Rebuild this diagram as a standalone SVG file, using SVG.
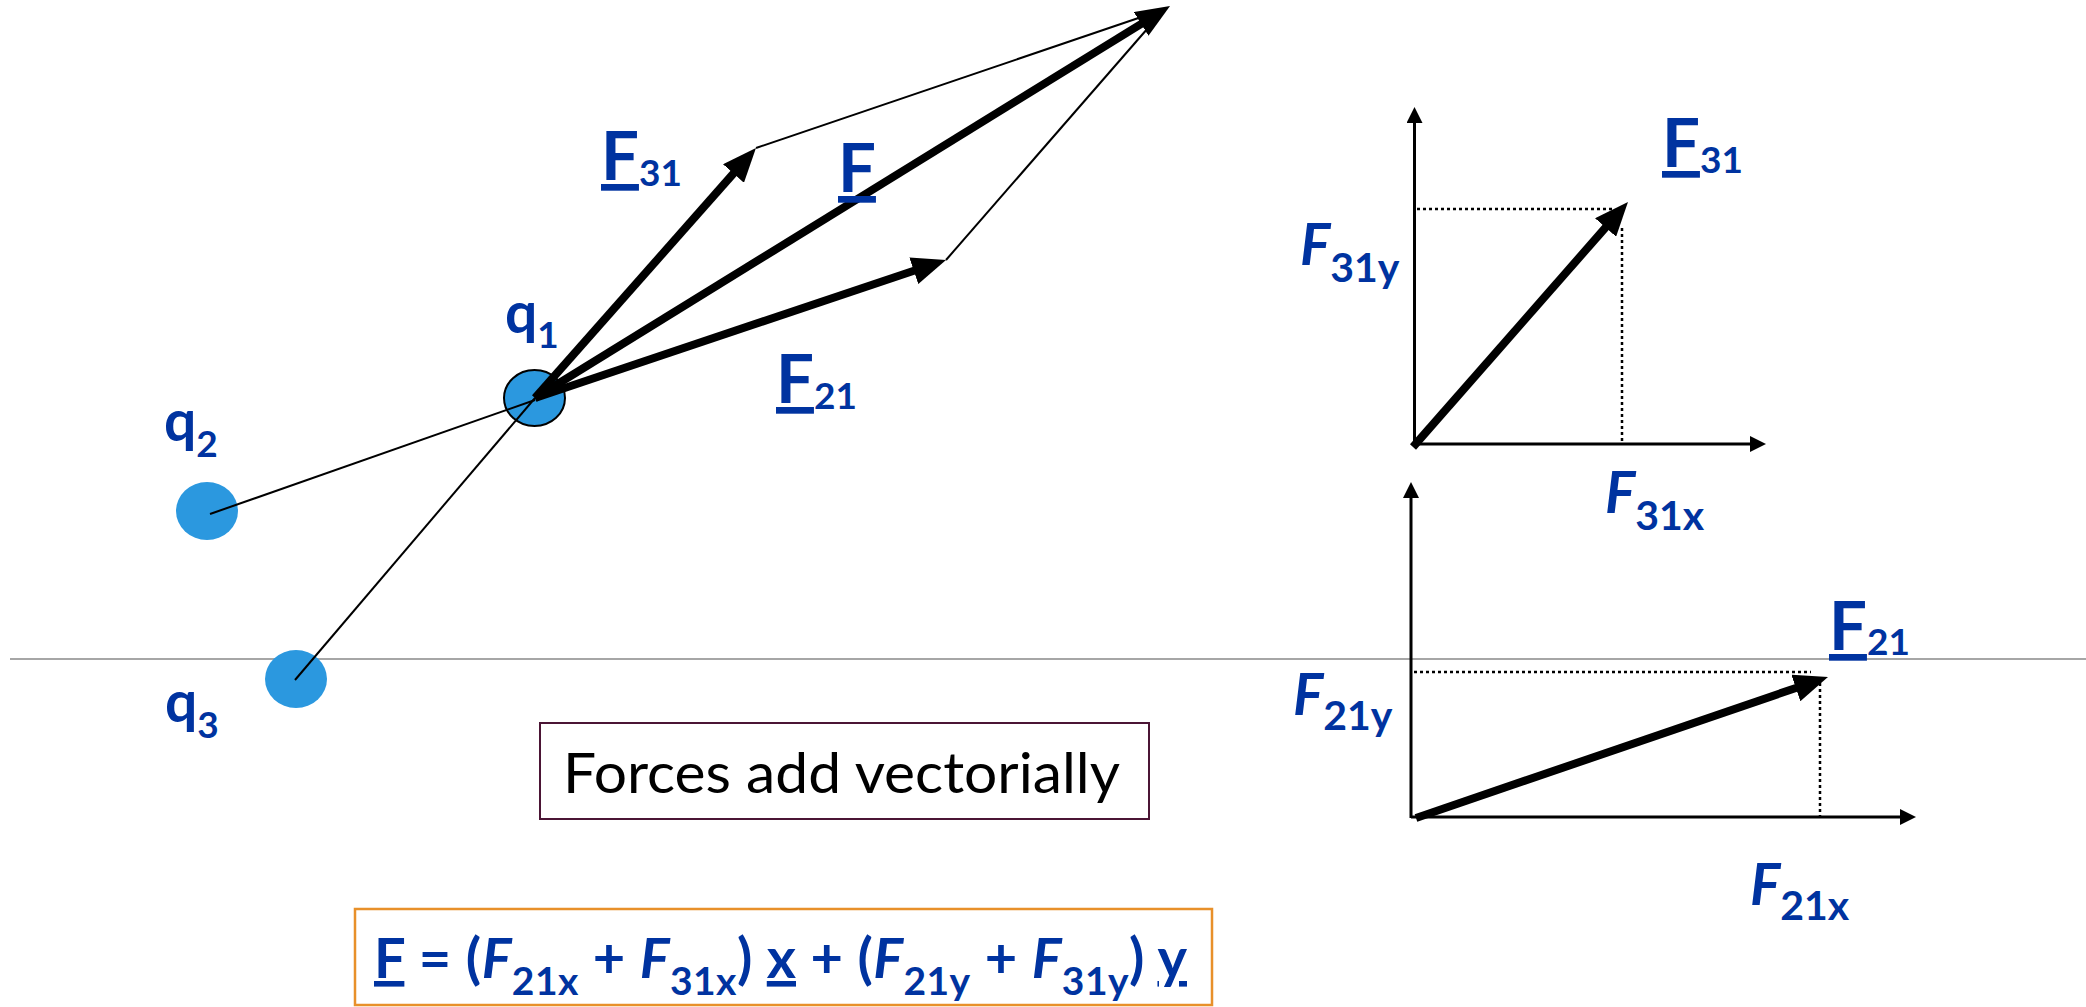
<svg xmlns="http://www.w3.org/2000/svg" width="2086" height="1007" viewBox="0 0 2086 1007">
<style>
.lbl{font-family:Lato,"Open Sans",sans-serif;font-weight:bold;fill:#0033a0}
.big{font-size:67px}
.sub{font-size:37px}
.it{font-style:italic;font-size:57px}
.isub{font-style:normal;font-size:41px}
.q{font-size:57px}
.qs{font-size:37px}
.eq{font-size:56px}
.eqs{font-size:39px}
.u{text-decoration:underline;text-decoration-skip-ink:none}
.thin{stroke:#000;stroke-width:2;fill:none}
.thick{stroke:#000;stroke-width:8;fill:none;marker-end:url(#head)}
.axis{stroke:#000;stroke-width:3;fill:none;marker-end:url(#ahead)}
.dot{stroke:#000;stroke-width:2.5;stroke-dasharray:3 3;fill:none}
.charge{fill:#2b98df}
</style>
<defs>
<marker id="head" markerUnits="userSpaceOnUse" viewBox="0 0 34 28" markerWidth="34" markerHeight="28" refX="4" refY="14" orient="auto">
<path d="M0,0 L34,14 L0,28 z" fill="#000"/>
</marker>
<marker id="ahead" markerUnits="userSpaceOnUse" viewBox="0 0 16 16" markerWidth="16" markerHeight="16" refX="2" refY="8" orient="auto">
<path d="M0,0 L16,8 L0,16 z" fill="#000"/>
</marker>
</defs>
<rect width="2086" height="1007" fill="#fff"/>
<line x1="10" y1="659" x2="2086" y2="659" stroke="#a6a6a6" stroke-width="2"/>
<g id="charge-q2"><ellipse class="charge" cx="207" cy="511" rx="31" ry="29"/></g>
<g id="charge-q3"><ellipse class="charge" cx="296" cy="679" rx="31" ry="29"/></g>
<g id="charge-q1"><ellipse class="charge" cx="534.5" cy="398" rx="30.5" ry="28" stroke="#000" stroke-width="2"/></g>
<g id="connectors">
<line class="thin" x1="210" y1="514" x2="535" y2="400"/>
<line class="thin" x1="295" y1="680" x2="535" y2="398"/>
<line class="thin" x1="756" y1="148" x2="1162" y2="10"/>
<line class="thin" x1="946" y1="260" x2="1148" y2="28"/>
<line class="thick" x1="535" y1="398" x2="1144.5" y2="21.8"/>
<line class="thick" x1="535" y1="398" x2="736.1" y2="170.5"/>
<line class="thick" x1="535" y1="398" x2="917.6" y2="269.5"/>
<line class="axis" x1="1414.5" y1="447" x2="1414.5" y2="121"/>
<line class="axis" x1="1413" y1="444" x2="1752" y2="444"/>
<line class="dot" x1="1417" y1="209" x2="1615" y2="209"/>
<line class="dot" x1="1622" y1="228" x2="1622" y2="444"/>
<line class="thick" x1="1413" y1="447" x2="1608.2" y2="224.5"/>
<line class="axis" x1="1411" y1="818" x2="1411" y2="496"/>
<line class="axis" x1="1411" y1="817" x2="1902" y2="817"/>
<line class="dot" x1="1414" y1="672" x2="1811" y2="672"/>
<line class="dot" x1="1820" y1="683" x2="1820" y2="817"/>
<line class="thick" x1="1416" y1="818" x2="1799.6" y2="686.7"/>
</g>
<g id="labels">
<text class="lbl q" x="505" y="333">q<tspan class="qs" dy="15">1</tspan></text>
<text class="lbl q" x="164" y="441">q<tspan class="qs" dy="16">2</tspan></text>
<text class="lbl q" x="165" y="722">q<tspan class="qs" dy="16">3</tspan></text>
<text class="lbl big" x="601" y="180"><tspan class="u">F</tspan><tspan class="sub" dy="6">31</tspan></text>
<text class="lbl big" x="838" y="192"><tspan class="u">F</tspan></text>
<text class="lbl big" x="776" y="403"><tspan class="u">F</tspan><tspan class="sub" dy="6">21</tspan></text>
<text class="lbl big" x="1662" y="167"><tspan class="u">F</tspan><tspan class="sub" dy="6">31</tspan></text>
<text class="lbl big" x="1829" y="650"><tspan class="u">F</tspan><tspan class="sub" dy="5">21</tspan></text>
<text class="lbl it" x="1300" y="265">F<tspan class="isub" dy="17">31y</tspan></text>
<text class="lbl it" x="1605" y="513">F<tspan class="isub" dy="17">31x</tspan></text>
<text class="lbl it" x="1293" y="715">F<tspan class="isub" dy="15">21y</tspan></text>
<text class="lbl it" x="1750" y="905">F<tspan class="isub" dy="15">21x</tspan></text>
</g>
<g id="note">
<rect x="540" y="723" width="609" height="96" fill="none" stroke="#4b1535" stroke-width="2"/>
<text x="563" y="793" font-family="Lato,'Open Sans',sans-serif" font-size="57" fill="#000" textLength="557" lengthAdjust="spacingAndGlyphs">Forces add vectorially</text>
</g>
<g id="equation">
<rect x="355" y="909" width="857" height="96" fill="none" stroke="#e8902a" stroke-width="2.5"/>
<text class="lbl eq" x="374" y="978" textLength="813" lengthAdjust="spacing"><tspan class="u">F</tspan> = (<tspan font-style="italic">F</tspan><tspan class="eqs" dy="17">21x</tspan><tspan dy="-17"> + </tspan><tspan font-style="italic">F</tspan><tspan class="eqs" dy="17">31x</tspan><tspan dy="-17">) </tspan><tspan class="u">x</tspan> + (<tspan font-style="italic">F</tspan><tspan class="eqs" dy="17">21y</tspan><tspan dy="-17"> + </tspan><tspan font-style="italic">F</tspan><tspan class="eqs" dy="17">31y</tspan><tspan dy="-17">) </tspan><tspan class="u">y</tspan></text>
</g>
</svg>
